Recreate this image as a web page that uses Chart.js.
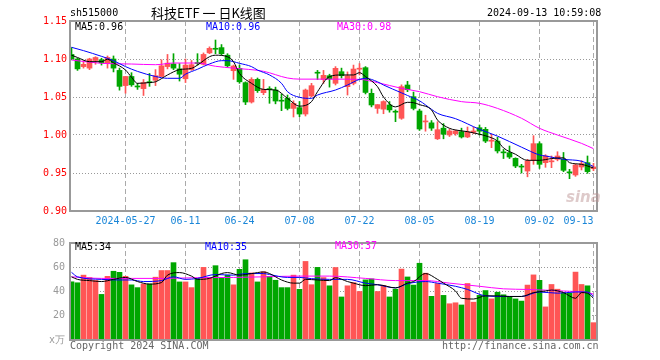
<!DOCTYPE html>
<html>
<head>
<meta charset="utf-8">
<script src="https://cdn.jsdelivr.net/npm/chart.js@4.4.1/dist/chart.umd.min.js"></script>
<style>
  body { margin: 0; background: #fff; }
  #wrap { position: relative; width: 660px; height: 360px; overflow: hidden; background: #fff; }
  canvas { position: absolute; left: 0; }
  .t { position: absolute; font: 10px "DejaVu Sans Mono", monospace; line-height: 12px; white-space: pre; color: #000; }
</style>
</head>
<body>
<div id="wrap">
  <canvas id="price" width="660" height="232" style="top:0"></canvas>
  <canvas id="vol" width="660" height="128" style="top:232px"></canvas>

  <div class="t" style="left:70px;top:7px">sh515000</div>
  <div class="t" style="left:151px;top:4px;font:13px 'Noto Sans CJK SC',sans-serif;line-height:17px">科技ETF 一 日K线图</div>
  <div class="t" style="left:487px;top:7px">2024-09-13 10:59:08</div>

  <div class="t" style="left:75px;top:21px">MA5:0.96</div>
  <div class="t" style="left:206px;top:21px;color:#0000ff">MA10:0.96</div>
  <div class="t" style="left:337px;top:21px;color:#ff00ff">MA30:0.98</div>

  <div class="t" style="left:566px;top:188px;font:italic bold 15px 'DejaVu Sans',sans-serif;line-height:18px;color:rgba(190,150,150,0.5)">sina</div>

  <div class="t" style="left:75px;top:241px">MA5:34</div>
  <div class="t" style="left:205px;top:241px;color:#0000ff">MA10:35</div>
  <div class="t" style="left:335px;top:240px;color:#ff00ff">MA30:37</div>

  <div class="t" style="left:70px;top:340px;color:#666">Copyright 2024 SINA.COM</div>
  <div class="t" style="left:442px;top:340px;color:#666">http://finance.sina.com.cn</div>
</div>

<script>
"use strict";

// daily candles, 2024-05-14 .. 2024-09-13 (88 trading days)
const open = [1.106,1.100,1.090,1.088,1.098,1.099,1.094,1.100,1.085,1.065,
  1.077,1.0638,1.061,1.0692,1.072,1.077,1.090,1.0935,1.087,1.074,
  1.086,1.0945,1.093,1.108,1.1132,1.115,1.105,1.0846,1.0877,1.0689,
  1.0434,1.0732,1.0557,1.0600,1.0592,1.0449,1.0482,1.035,1.036,1.0276,
  1.0513,1.0817,1.073,1.078,1.068,1.0833,1.0636,1.068,1.0866,1.0886,
  1.0548,1.035,1.034,1.0395,1.0305,1.022,1.0658,1.0504,1.0316,1.0172,
  1.016,0.995,1.009,1.000,1.0018,1.0044,0.9974,1.0035,1.0096,1.0075,
  0.9918,0.992,0.9769,0.9767,0.9693,0.9582,0.9526,0.9667,0.9886,0.9636,
  0.9647,0.968,0.968,0.9506,0.9474,0.9579,0.9636,0.9557];
const close = [1.100,1.087,1.093,1.100,1.102,1.095,1.102,1.088,1.064,1.077,
  1.066,1.0632,1.069,1.0688,1.078,1.091,1.0945,1.088,1.080,1.092,
  1.0925,1.094,1.106,1.114,1.1128,1.107,1.091,1.0908,1.070,1.0434,
  1.0732,1.0583,1.0601,1.0597,1.0447,1.0445,1.035,1.0417,1.0276,1.0592,
  1.0649,1.0813,1.0785,1.0737,1.0877,1.078,1.078,1.0868,1.0870,1.056,
  1.0395,1.040,1.044,1.033,1.0300,1.0636,1.0596,1.035,1.0079,1.0178,
  1.009,1.007,1.001,1.0053,1.0053,0.9974,1.004,1.0053,1.005,0.992,
  0.9922,0.979,0.9765,0.971,0.9592,0.9578,0.9658,0.9886,0.9614,0.9724,
  0.9651,0.9724,0.9535,0.9502,0.9605,0.9623,0.9518,0.958];
const high = [1.115,1.101,1.098,1.101,1.103,1.101,1.104,1.104,1.088,1.077,
  1.082,1.068,1.073,1.081,1.086,1.099,1.106,1.107,1.094,1.100,
  1.098,1.107,1.108,1.116,1.125,1.119,1.107,1.092,1.092,1.070,
  1.0754,1.075,1.0732,1.0636,1.063,1.054,1.0526,1.045,1.044,1.0605,
  1.068,1.085,1.085,1.080,1.090,1.088,1.083,1.092,1.094,1.090,
  1.0605,1.040,1.045,1.044,1.033,1.066,1.0706,1.0565,1.034,1.026,
  1.019,1.0175,1.015,1.008,1.0066,1.009,1.0105,1.0105,1.0132,1.010,
  1.001,0.997,0.981,0.9855,0.970,0.9614,0.968,0.9991,0.991,0.9741,
  0.9724,0.978,0.977,0.9548,0.962,0.9662,0.9724,0.9627];
const low = [1.099,1.085,1.088,1.086,1.093,1.092,1.088,1.083,1.059,1.055,
  1.064,1.060,1.052,1.064,1.065,1.077,1.087,1.086,1.071,1.069,
  1.085,1.092,1.092,1.107,1.107,1.105,1.089,1.0732,1.068,1.040,
  1.042,1.056,1.053,1.0417,1.041,1.032,1.033,1.0237,1.024,1.025,
  1.050,1.073,1.068,1.063,1.0658,1.075,1.0526,1.066,1.079,1.054,
  1.037,1.0285,1.028,1.030,1.0175,1.0206,1.057,1.033,1.006,1.005,
  1.006,0.994,0.995,0.998,0.9996,0.996,0.9965,1.0017,1.000,0.990,
  0.9833,0.9763,0.969,0.969,0.957,0.950,0.945,0.9614,0.956,0.9575,
  0.957,0.966,0.9517,0.9425,0.9456,0.954,0.9496,0.953];

// volume, 万
const volume = [48,47.2,53.5,51.5,49.1,37.6,52.5,56.7,55.8,52.5,
  45.5,43.2,46.2,46.2,51.8,57.3,57.3,63.8,47.9,47.9,
  43.2,50.6,59.9,51.3,61.3,51.1,53.4,45.5,58.3,66.2,
  55.3,47.9,56.3,52.5,49.3,43.2,43.2,53.5,41.8,64.8,
  45.6,59.9,51.5,44.7,59.8,35.5,44.7,47.3,40,49.6,
  50.4,40,45,35.5,41.9,58.5,52,45.3,63.3,55.1,
  36,46.6,36.8,29.9,30.7,28.9,46.6,31.2,36.8,40.8,
  33.9,39.4,37.3,35.5,33.9,32.1,45.3,53.7,49.2,27.3,
  45.8,41.9,38.6,38.6,56,45.8,44.7,14.3];

// moving averages: [day index, value]
const ma5Price = [[0,1.105],[1,1.102],[3,1.0965],[5,1.0965],[6,1.0996],[7,1.095],[9,1.0855],[10,1.076],
  [11,1.068],[13,1.069],[14,1.070],[16,1.079],[18,1.086],[20,1.0877],[21,1.092],[23,1.103],[24,1.105],
  [26,1.103],[27,1.0965],[28,1.081],[30,1.068],[32,1.060],[34,1.0592],[36,1.0482],[38,1.038],[40,1.0439],
  [41,1.057],[43,1.0768],[45,1.079],[47,1.079],[48,1.082],[49,1.0768],[51,1.0636],[52,1.050],[54,1.037],
  [56,1.043],[57,1.0425],[58,1.040],[60,1.033],[61,1.0197],[63,1.0088],[64,1.0066],[66,1.0044],[68,1.001],
  [69,0.999],[71,0.992],[72,0.983],[74,0.9746],[76,0.9667],[78,0.9667],[80,0.969],[82,0.970],[83,0.9636],
  [85,0.9614],[87,0.9566]];
const ma10Price = [[0,1.1154],[2,1.111],[5,1.1035],[7,1.0978],[9,1.090],[11,1.0837],[14,1.077],[16,1.0746],
  [18,1.0746],[19,1.080],[21,1.0865],[23,1.0935],[25,1.0978],[26,1.0978],[28,1.0943],[30,1.090],[31,1.0855],
  [33,1.079],[35,1.068],[36,1.057],[38,1.0496],[40,1.0482],[41,1.0526],[44,1.0592],[46,1.0658],[48,1.0732],
  [49,1.0746],[51,1.070],[52,1.0658],[55,1.0555],[56,1.052],[58,1.045],[60,1.0338],[61,1.0285],[64,1.0215],
  [68,1.0075],[71,0.9985],[75,0.984],[78,0.9737],[79,0.9724],[82,0.968],[85,0.9655],[87,0.9585]];
const ma30Price = [[0,1.0987],[5,1.0943],[10,1.0934],[14,1.0925],[17,1.0947],[21,1.0947],[24,1.0904],
  [27,1.088],[32,1.0838],[36,1.075],[38,1.0735],[43,1.0735],[48,1.0732],[51,1.0689],[55,1.0614],[58,1.057],
  [61,1.0504],[65,1.0439],[68,1.0417],[71,1.035],[75,1.022],[78,1.0088],[81,1.000],[85,0.989],[87,0.982]];

const ma5Vol = [[0,52.1],[1,50],[3,49],[5,48.2],[7,50],[9,51.6],[11,48.2],[13,46.1],[15,47.4],[16,53.5],
  [18,55.6],[20,52.7],[21,50],[23,50.8],[25,54.8],[26,55.6],[28,53.5],[30,54.8],[32,56.1],[33,54.8],
  [35,49.5],[37,46.9],[38,46.9],[39,50],[41,49.5],[43,49],[44,51.4],[46,48.2],[47,46.9],[49,44.8],
  [51,45.6],[54,43],[56,46.9],[57,48.2],[59,54.8],[61,50],[62,46.9],[64,40.4],[65,34.4],[67,33.8],
  [69,36.4],[71,36.4],[73,35.9],[75,35.9],[77,39.1],[79,40.4],[80,41.2],[82,39.1],[84,34.4],[85,39.1],
  [86,38.6],[87,34.4]];
const ma10Vol = [[0,55.8],[1,52.1],[5,50],[8,49.5],[10,49.5],[12,48.2],[15,49],[17,52.1],[19,50],[21,50.8],
  [24,54],[27,53.5],[29,54.8],[32,54.8],[33,54],[36,51.6],[38,51.6],[40,50.6],[43,50],[46,50],[49,46.9],
  [51,45.6],[54,43],[56,46.4],[59,48.2],[61,46.9],[64,44.3],[66,41.7],[69,36.4],[72,35.9],[75,35.9],
  [78,39.6],[81,38.6],[84,39.6],[86,39.6],[87,35.8]];
const ma30Vol = [[0,52.1],[5,50.8],[10,50.8],[15,50.8],[21,51.4],[27,51.6],[32,52.1],[38,52.7],[43,52.7],
  [49,50.8],[54,49],[59,49],[63,46.9],[68,44.3],[72,42.2],[76,41.7],[82,40.4],[86,39.1],[87,37.8]];

const tickIndex = [9, 19, 28, 38, 48, 58, 68, 78, 87];
const tickLabels = ['2024-05-27', '06-11', '06-24', '07-08', '07-22', '08-05', '08-19', '09-02', '09-13     '];

const RED = '#ff5555';
const GREEN = '#00a600';
const FONT = { family: '"DejaVu Sans Mono", monospace', size: 10 };

const candleColor = open.map((o, i) => close[i] > o ? RED : GREEN);
const pts = pairs => pairs.map(([x, y]) => ({ x: x, y: y }));

function maLine(pairs, color) {
  return {
    type: 'line',
    data: pts(pairs),
    borderColor: color,
    borderWidth: 1,
    pointRadius: 0,
    cubicInterpolationMode: 'monotone',
    order: 0
  };
}

const framePlugin = {
  id: 'frame',
  afterDatasetsDraw(chart) {
    const ctx = chart.ctx;
    const a = chart.chartArea;
    ctx.save();
    ctx.strokeStyle = '#999';
    ctx.lineWidth = 2;
    ctx.strokeRect(a.left, a.top, a.right - a.left, a.bottom - a.top);
    ctx.restore();
  }
};

function xScale(showLabels) {
  return {
    type: 'linear',
    bounds: 'data',
    offset: false,
    min: -0.25,
    max: 87.5833,
    afterBuildTicks: s => { s.ticks = tickIndex.map(v => ({ value: v })); },
    afterFit: s => { s.height = showLabels ? 21 : 0; },
    ticks: {
      display: showLabels,
      autoSkip: false,
      maxRotation: 0,
      padding: 4,
      color: '#1a86d8',
      font: FONT,
      callback: v => tickLabels[tickIndex.indexOf(v)]
    },
    grid: { color: '#aaa', lineWidth: 1, drawTicks: false, offset: false },
    border: { display: false, dash: [5, 3] }
  };
}

Chart.defaults.animation = false;

new Chart(document.getElementById('price'), {
  type: 'bar',
  data: {
    datasets: [
      maLine(ma5Price, '#000000'),
      maLine(ma10Price, '#0000ff'),
      maLine(ma30Price, '#ff00ff'),
      {
        data: open.map((o, i) => ({ x: i, y: [o, close[i]] })),
        backgroundColor: candleColor,
        barThickness: 5,
        minBarLength: 1,
        grouped: false,
        order: 1
      },
      {
        data: low.map((l, i) => ({ x: i, y: [l, high[i]] })),
        backgroundColor: candleColor,
        barThickness: 1,
        grouped: false,
        order: 2
      }
    ]
  },
  options: {
    responsive: false,
    layout: { padding: { left: 0, right: 63, top: 21, bottom: 0 } },
    plugins: { legend: { display: false }, tooltip: { enabled: false } },
    scales: {
      x: xScale(true),
      y: {
        min: 0.90,
        max: 1.15,
        afterFit: s => { s.width = 70; },
        ticks: {
          stepSize: 0.05,
          padding: 3,
          color: '#ff0000',
          font: FONT,
          callback: v => v.toFixed(2)
        },
        grid: { color: '#999', lineWidth: 1, drawTicks: false },
        border: { display: false, dash: [1, 2] }
      }
    }
  },
  plugins: [framePlugin]
});

new Chart(document.getElementById('vol'), {
  type: 'bar',
  data: {
    datasets: [
      maLine(ma5Vol, '#000000'),
      maLine(ma10Vol, '#0000ff'),
      maLine(ma30Vol, '#ff00ff'),
      {
        data: volume.map((v, i) => ({ x: i, y: v })),
        backgroundColor: candleColor,
        barThickness: 5,
        grouped: false,
        order: 1
      }
    ]
  },
  options: {
    responsive: false,
    layout: { padding: { left: 0, right: 63, top: 9, bottom: 20 } },
    plugins: { legend: { display: false }, tooltip: { enabled: false } },
    scales: {
      x: xScale(false),
      y: {
        min: 0,
        max: 80,
        afterFit: s => { s.width = 70; },
        ticks: {
          stepSize: 20,
          padding: 5,
          color: '#999',
          font: FONT,
          callback: v => v === 0 ? 'x万' : String(v)
        },
        grid: { color: '#999', lineWidth: 1, drawTicks: false },
        border: { display: false, dash: [1, 2] }
      }
    }
  },
  plugins: [framePlugin]
});
</script>
</body>
</html>
